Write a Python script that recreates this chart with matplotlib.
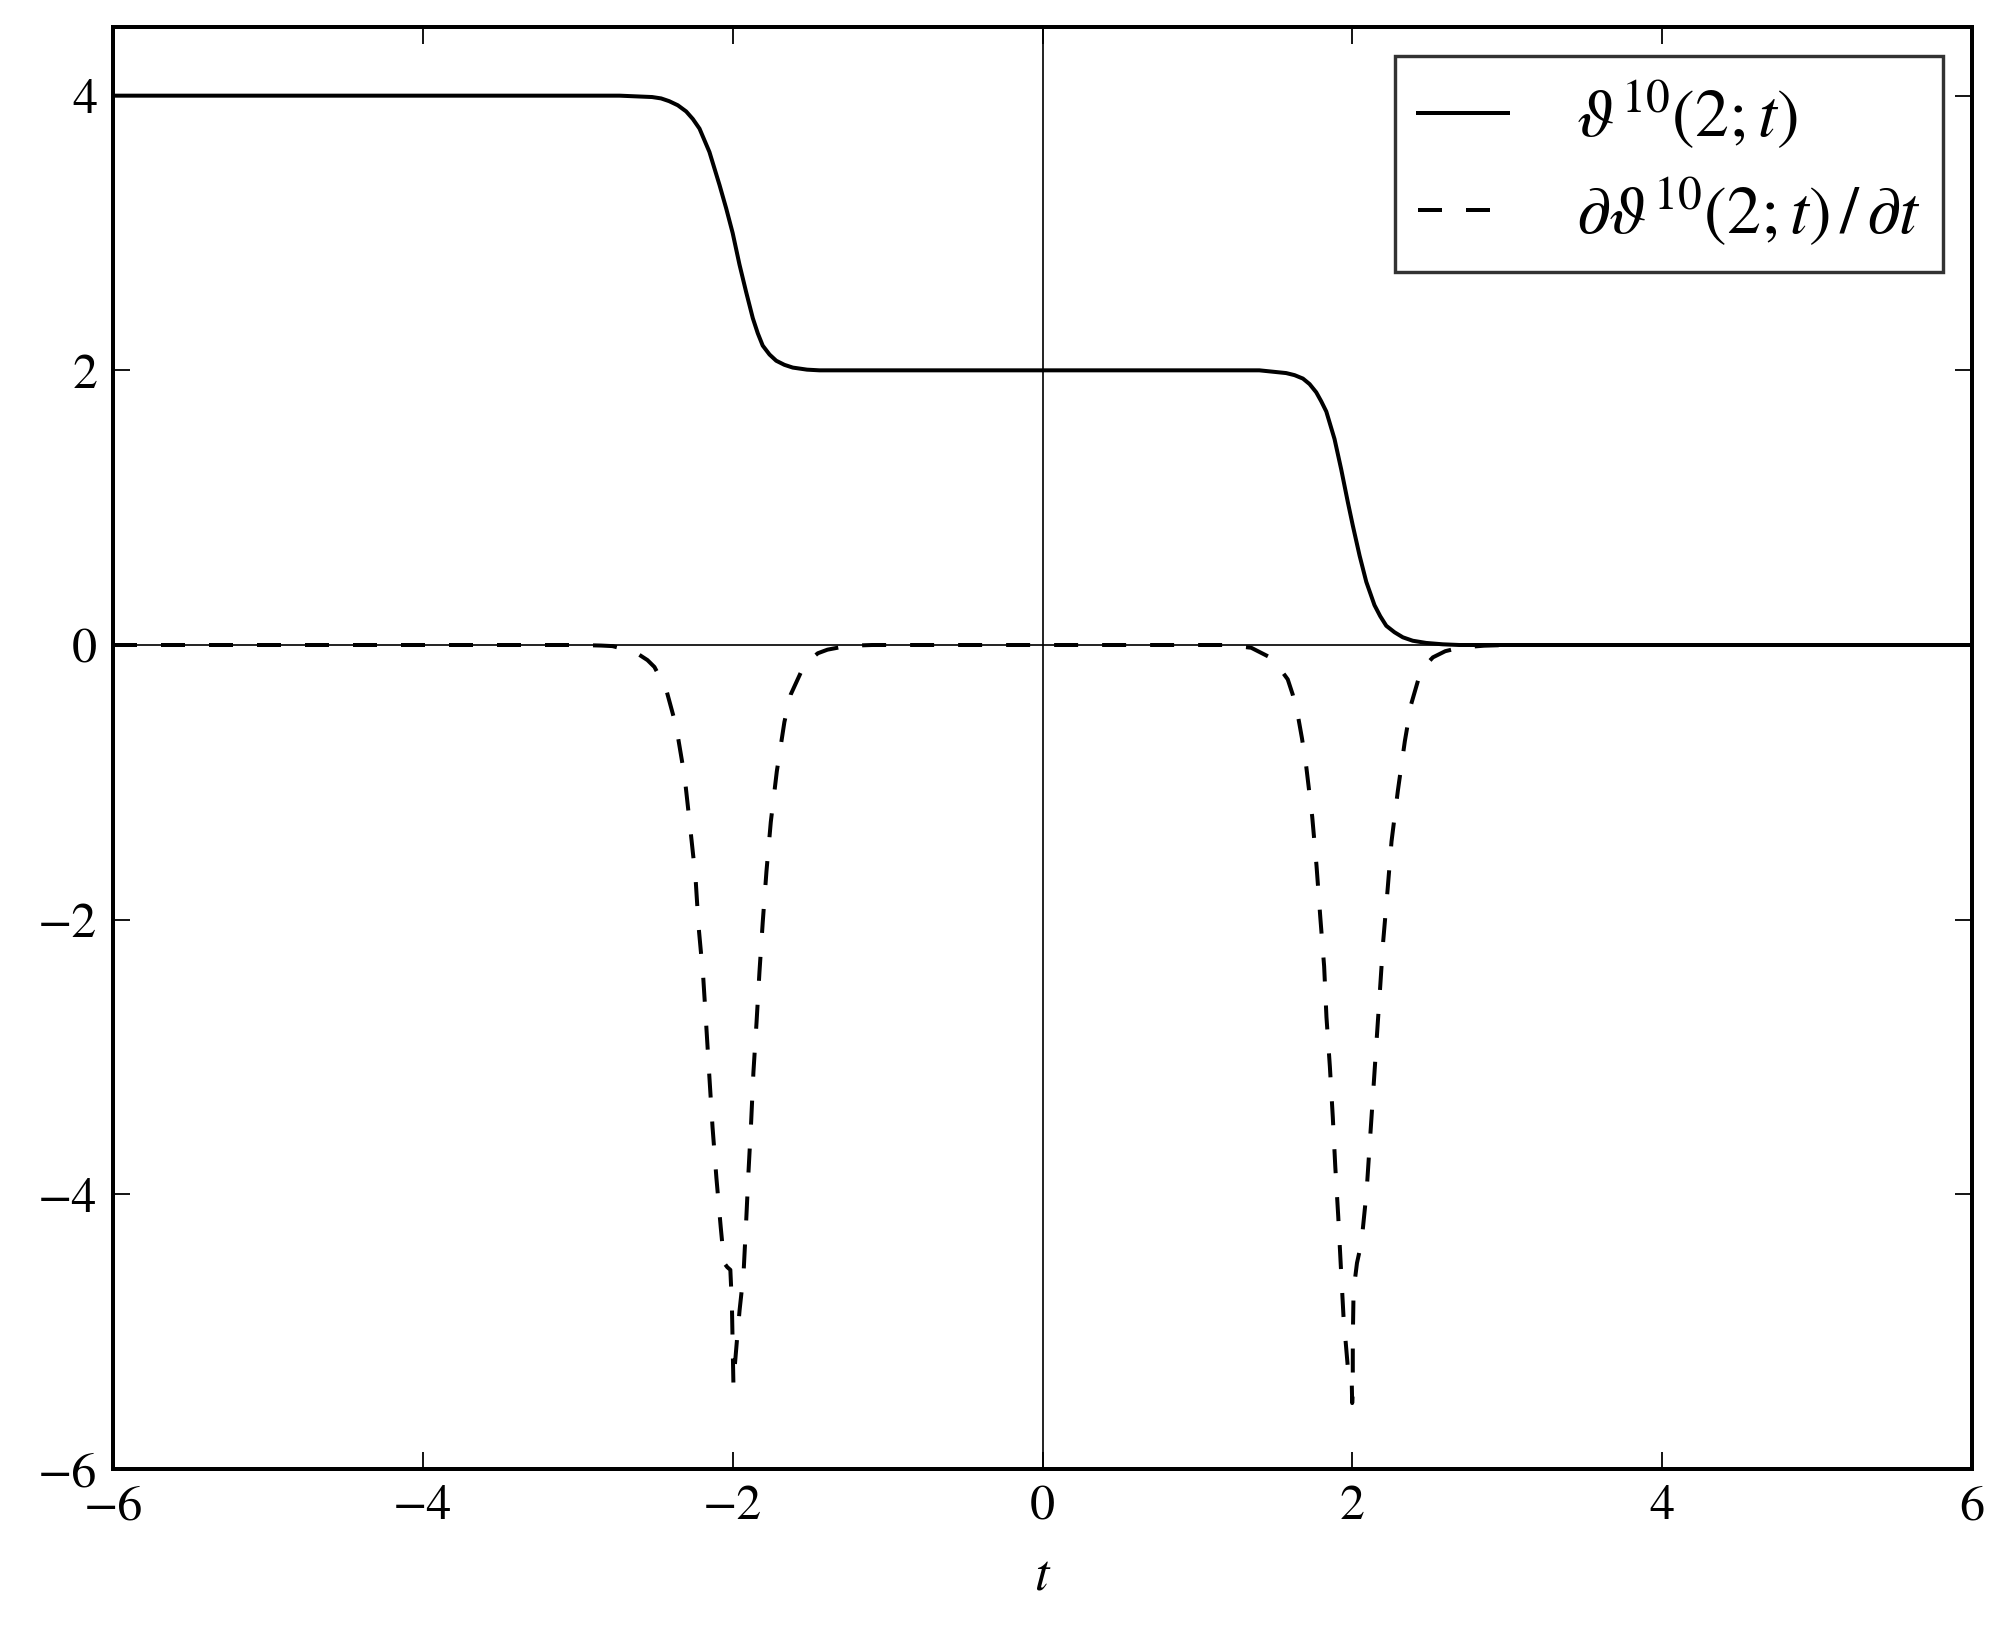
import matplotlib
matplotlib.use("Agg")
import matplotlib.pyplot as plt

# ---- data ----
t_theta = [-6.0, -2.73, -2.52, -2.462, -2.41, -2.354, -2.30, -2.257, -2.214, -2.15,
           -2.085, -2.042, -2.0, -1.956, -1.913, -1.87, -1.838, -1.806, -1.762,
           -1.719, -1.666, -1.612, -1.52, -1.44,
           1.40, 1.573, 1.627, 1.681, 1.724, 1.767, 1.799, 1.832, 1.885, 1.928,
           1.971, 2.003, 2.047, 2.09, 2.143, 2.18, 2.219, 2.272, 2.326, 2.39,
           2.477, 2.584, 2.69, 6.0]
theta = [4.0, 4.0, 3.99, 3.98, 3.96, 3.93, 3.885, 3.83, 3.76, 3.59,
         3.35, 3.18, 3.0, 2.77, 2.57, 2.38, 2.27, 2.18, 2.115,
         2.07, 2.04, 2.02, 2.005, 2.0,
         2.0, 1.98, 1.965, 1.94, 1.90, 1.84, 1.775, 1.70, 1.50, 1.28,
         1.04, 0.87, 0.65, 0.46, 0.29, 0.21, 0.14, 0.093, 0.056, 0.031,
         0.015, 0.005, 0.0, 0.0]

t_dtheta = [-6.0, -3.0, -2.85, -2.776, -2.70, -2.621, -2.55, -2.505, -2.43, -2.365,
            -2.31, -2.275, -2.24, -2.22, -2.19, -2.17, -2.15, -2.13, -2.105, -2.077,
            -2.055, -2.035, -2.015, -2.005, -2.0, -1.995,
            -1.99, -1.97, -1.955, -1.93, -1.913, -1.898, -1.881, -1.866, -1.846,
            -1.827, -1.806, -1.782, -1.754, -1.715, -1.666, -1.625, -1.56, -1.525,
            -1.45, -1.388, -1.30, -1.235, -1.1,
            1.1, 1.186, 1.347, 1.486, 1.583, 1.615, 1.648, 1.675, 1.702, 1.741, 1.769,
            1.793, 1.818, 1.833, 1.855, 1.874, 1.890, 1.909, 1.926, 1.943, 1.971,
            1.975, 1.995, 1.999,
            2.003, 2.003, 2.008, 2.03, 2.059, 2.092, 2.113, 2.135, 2.156, 2.178,
            2.199, 2.227, 2.253, 2.294, 2.339, 2.38, 2.434, 2.47, 2.52, 2.60, 2.70,
            2.85, 3.0, 6.0]
dtheta = [0.0, 0.0, -0.004, -0.008, -0.03, -0.058, -0.11, -0.16, -0.32, -0.59,
          -0.96, -1.32, -1.69, -2.05, -2.42, -2.78, -3.15, -3.51, -3.88, -4.24,
          -4.50, -4.53, -4.55, -4.80, -5.10, -5.39,
          -5.30, -5.03, -4.84, -4.58, -4.20, -3.84, -3.48, -3.11, -2.75,
          -2.38, -2.02, -1.65, -1.29, -0.92, -0.56, -0.36, -0.20, -0.13,
          -0.06, -0.034, -0.015, -0.005, 0.0,
          0.0, 0.0, -0.02, -0.10, -0.25, -0.36, -0.51, -0.68, -0.88, -1.25, -1.61,
          -1.98, -2.34, -2.71, -3.07, -3.44, -3.80, -4.16, -4.53, -4.89, -5.26,
          -5.30, -5.30, -5.52,
          -5.43, -5.06, -4.70, -4.50, -4.35, -3.98, -3.62, -3.25, -2.89, -2.52,
          -2.16, -1.79, -1.43, -1.06, -0.70, -0.43, -0.22, -0.15, -0.09, -0.045, -0.018,
          -0.005, 0.0, 0.0]

xticks = [-6, -4, -2, 0, 2, 4, 6]
yticks = [-6, -4, -2, 0, 2, 4]
labels = [r'$\vartheta^{10}(2;t)$', r'$\partial\vartheta^{10}(2;t)\,/\,\partial t$']

# ---- style ----
plt.rcParams['font.family'] = ['STIXGeneral', 'DejaVu Serif']
plt.rcParams['mathtext.fontset'] = 'stix'
plt.rcParams['axes.unicode_minus'] = True

DPI = 288
fig = plt.figure(figsize=(2014 / DPI, 1636 / DPI), dpi=DPI)
ax = fig.add_axes([113 / 2014, 1 - 1469 / 1636, (1972 - 113) / 2014, (1469 - 27) / 1636])

ax.axhline(0, color='black', lw=0.42, zorder=1)
ax.axvline(0, color='black', lw=0.42, zorder=1)

ax.plot(t_theta, theta, color='black', lw=1.0, label=labels[0], zorder=3)
ax.plot(t_dtheta, dtheta, color='black', lw=1.0, dashes=(6, 6), label=labels[1], zorder=3)

ax.set_xlim(-6, 6)
ax.set_ylim(-6, 4.5)
ax.set_xticks(xticks)
ax.set_yticks(yticks)
ax.tick_params(direction='in', top=True, right=True, length=4.2, width=0.45,
               labelsize=12.5, pad=4)
for s in ax.spines.values():
    s.set_linewidth(1.0)

ax.set_xlabel(r'$t$', fontsize=13, labelpad=6)

leg = ax.legend(loc='upper right', fontsize=17, frameon=True, fancybox=False,
                handlelength=1.32, handletextpad=1.0, borderpad=0.34,
                labelspacing=0.36, borderaxespad=0.42)
leg.get_frame().set_edgecolor('black')
leg.get_frame().set_linewidth(0.85)

fig.savefig('out.png', dpi=DPI)
